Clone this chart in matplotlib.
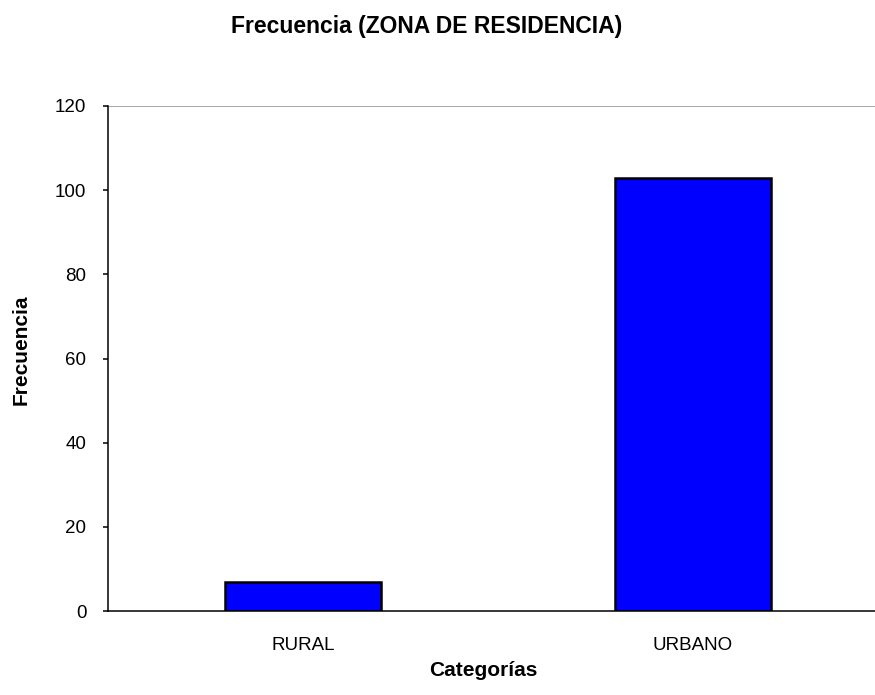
import matplotlib.pyplot as plt

categorias = ["RURAL", "URBANO"]
frecuencias = [7, 103]
y_ticks = [0, 20, 40, 60, 80, 100, 120]

plt.rcParams['font.family'] = ['Liberation Sans', 'DejaVu Sans']

W, H = 875, 695
fig = plt.figure(figsize=(W / 100, H / 100), dpi=100)
# el eje se sale un poco por la derecha, como en la imagen original
ax = fig.add_axes([108 / W, 84 / H, 780 / W, 505 / H])

pos = range(len(categorias))
ax.bar(pos, frecuencias, width=0.4, color='#0000ff', edgecolor='black', linewidth=1.8)

ax.set_xlim(-0.5, 1.5)
ax.set_ylim(0, 120)
ax.set_yticks(y_ticks)
ax.set_xticks(list(pos))
ax.set_xticklabels(categorias)
ax.axhline(120, color='#999999', linewidth=1.2)

ax.spines['top'].set_visible(False)
ax.spines['right'].set_visible(False)
ax.spines['left'].set_linewidth(1.1)
ax.spines['bottom'].set_linewidth(1.1)
ax.tick_params(axis='x', length=0, pad=19, labelsize=13.5)
ax.tick_params(axis='y', length=3.6, width=1.1, direction='out', labelsize=13.5, pad=12)

fig.text(483 / W, 1 - 670 / H, "Categorías", ha='center', va='center',
         fontweight='bold', fontsize=15)
fig.text(21 / W, 1 - 350 / H, "Frecuencia", ha='center', va='center', rotation=90,
         fontweight='bold', fontsize=15)
fig.text(427 / W, 1 - 33 / H, "Frecuencia (ZONA DE RESIDENCIA)", ha='center', va='baseline',
         fontweight='bold', fontsize=16.5)

fig.savefig("out.png", dpi=100)
